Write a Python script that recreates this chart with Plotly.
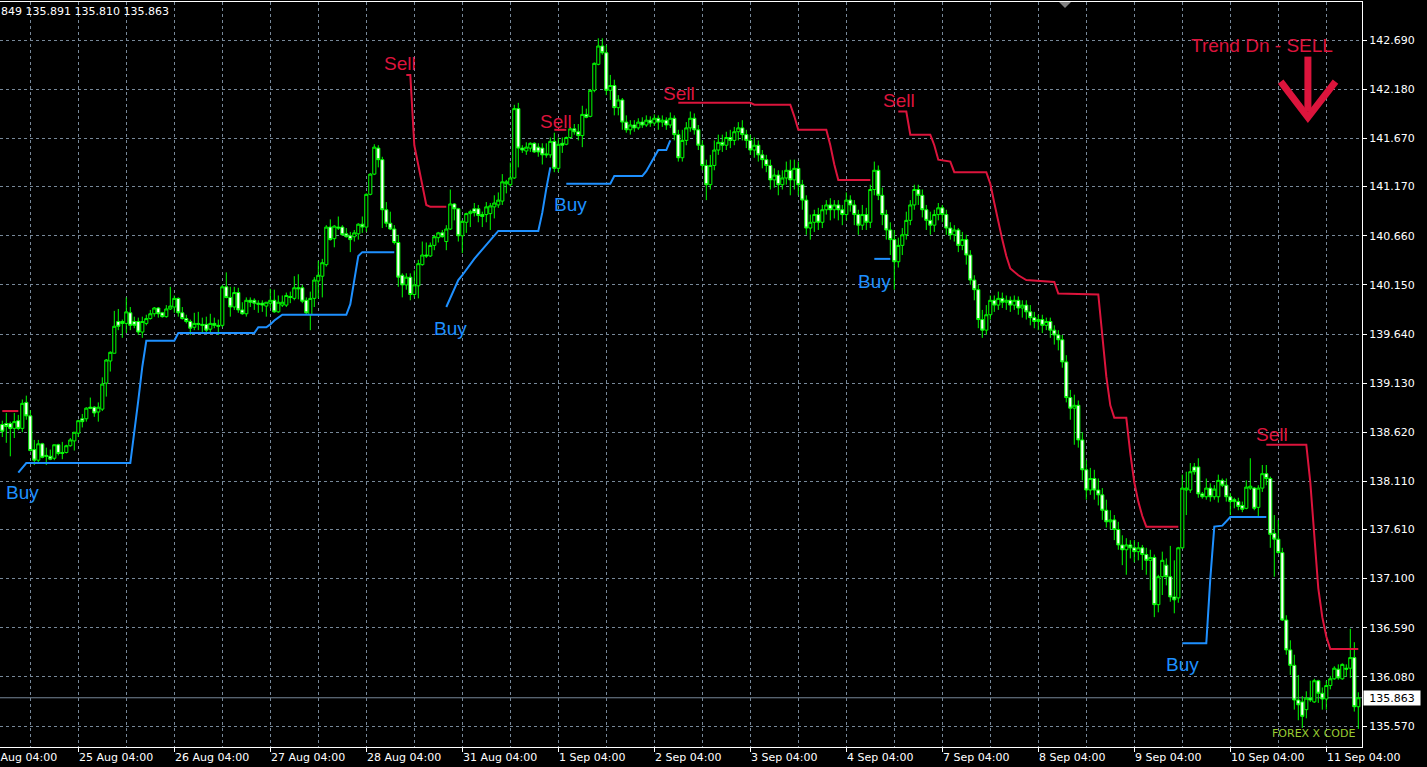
import plotly.graph_objects as go

# ---------------- data (H1 bars, index 0 = first visible bar) ----------------
opens = [
138.70,138.71,138.71,138.66,138.74,138.66,138.93,138.79,138.44,138.33,
138.50,138.38,138.37,138.35,138.49,138.41,138.41,138.48,138.53,138.61,
138.76,138.76,138.88,138.88,138.83,138.86,139.13,139.36,139.44,139.77,
139.77,139.75,139.86,139.77,139.77,139.66,139.75,139.80,139.85,139.91,
139.86,139.82,139.90,139.92,140.01,139.86,139.80,139.77,139.71,139.75,
139.74,139.74,139.69,139.75,139.73,139.73,140.13,140.02,139.92,140.07,
139.89,139.85,139.99,139.99,139.96,139.96,139.93,139.96,139.99,139.87,
139.94,139.94,140.03,140.01,140.12,140.12,139.99,139.84,140.01,140.19,
140.24,140.36,140.75,140.63,140.75,140.75,140.68,140.66,140.65,140.68,
140.78,140.75,141.09,141.30,141.57,141.45,140.93,140.79,140.73,140.59,
140.25,140.15,140.23,140.05,140.14,140.36,140.46,140.45,140.56,140.64,
140.69,140.60,140.73,140.99,140.94,140.66,140.80,140.89,140.94,140.94,
140.88,140.88,140.89,140.96,140.98,141.02,141.20,141.19,141.26,141.98,
141.57,141.54,141.57,141.62,141.58,141.57,141.51,141.50,141.64,141.36,
141.62,141.61,141.68,141.77,141.74,141.70,141.92,141.90,142.17,142.44,
142.63,142.56,142.17,142.22,141.99,142.07,141.84,141.76,141.81,141.78,
141.84,141.81,141.86,141.83,141.88,141.84,141.86,141.81,141.88,141.71,
141.47,141.65,141.78,141.88,141.76,141.60,141.39,141.19,141.39,141.55,
141.63,141.60,141.68,141.65,141.74,141.78,141.71,141.65,141.55,141.60,
141.50,141.45,141.39,141.24,141.29,141.19,141.26,141.34,141.24,141.36,
141.19,141.03,140.74,140.80,140.88,140.80,140.93,140.98,140.93,140.98,
140.93,140.88,141.03,140.98,140.88,140.77,140.88,140.80,141.14,141.34,
141.08,140.88,140.72,140.62,140.39,140.56,140.67,140.82,140.98,141.14,
141.08,140.93,140.82,140.77,140.88,140.95,140.88,140.74,140.67,140.72,
140.56,140.62,140.46,140.20,140.10,139.79,139.68,139.84,139.99,139.94,
140.01,139.97,139.99,139.94,139.99,139.91,139.94,139.87,139.81,139.77,
139.79,139.73,139.77,139.68,139.63,139.58,139.35,138.98,138.87,138.90,
138.54,138.23,138.02,138.14,138.02,137.97,137.81,137.69,137.71,137.61,
137.45,137.40,137.45,137.42,137.38,137.42,137.35,137.29,137.32,136.83,
137.12,137.24,137.12,136.91,136.90,137.42,138.02,138.02,138.26,138.26,
137.98,137.95,138.04,137.95,137.95,138.12,138.07,137.95,137.92,137.90,
137.86,137.83,138.04,138.04,137.84,138.04,138.19,138.14,137.57,137.51,
137.37,136.67,136.36,136.20,135.84,135.82,135.74,135.86,135.82,136.04,
135.91,135.85,135.99,136.06,136.16,136.06,136.17,136.17,136.28,135.77]

highs = [
138.74,138.82,138.73,138.82,138.80,138.96,139.00,138.85,138.54,138.54,
138.51,138.46,138.44,138.49,138.50,138.52,138.49,138.56,138.62,138.75,
138.81,138.88,138.98,138.89,138.93,139.19,139.38,139.46,139.88,139.90,
139.79,140.02,139.92,139.82,139.81,139.82,139.84,139.89,139.92,139.92,
139.87,139.94,140.13,140.04,140.02,139.92,139.84,139.79,139.86,139.87,
139.81,139.82,139.85,139.81,139.79,140.15,140.28,140.13,140.13,140.12,
139.97,140.02,140.02,140.01,139.99,139.99,139.97,140.11,140.10,140.04,
140.04,140.07,140.08,140.24,140.26,140.15,140.02,140.08,140.23,140.40,
140.42,140.77,140.83,140.77,140.86,140.77,140.74,140.70,140.72,140.79,
140.86,141.10,141.31,141.61,141.60,141.48,141.01,140.91,140.77,140.67,
140.27,140.27,140.27,140.30,140.41,140.60,140.59,140.59,140.67,140.70,
140.72,140.77,141.14,141.00,140.95,140.82,140.90,140.93,141.00,140.98,
140.91,141.01,141.00,141.08,141.11,141.30,141.24,141.42,142.02,142.04,
141.60,141.63,141.63,141.63,141.62,141.62,141.62,141.68,141.73,141.68,
141.68,141.69,141.79,141.82,141.82,142.01,141.98,142.18,142.46,142.71,
142.71,142.64,142.33,142.28,142.12,142.09,141.91,141.86,141.86,141.88,
141.89,141.91,141.90,141.92,141.91,141.91,141.89,141.94,141.91,141.76,
141.76,141.84,141.95,141.93,141.81,141.65,141.45,141.50,141.65,141.71,
141.71,141.74,141.76,141.79,141.84,141.86,141.76,141.71,141.68,141.65,
141.55,141.50,141.45,141.36,141.34,141.34,141.43,141.45,141.45,141.43,
141.24,141.08,140.88,140.93,140.95,140.98,141.03,141.05,141.03,141.03,
140.98,141.11,141.08,141.03,140.93,140.98,140.95,141.19,141.43,141.39,
141.16,140.93,140.80,140.72,140.64,140.74,140.91,141.03,141.19,141.19,
141.14,140.98,140.91,140.93,141.00,140.98,140.93,140.80,140.77,140.74,
140.70,140.67,140.51,140.25,140.15,139.89,139.94,140.04,140.04,140.08,
140.07,140.04,140.03,140.04,140.03,139.99,139.99,139.94,139.87,139.84,
139.84,139.81,139.81,139.73,139.68,139.63,139.42,139.06,139.01,138.95,
138.62,138.33,138.25,138.23,138.14,138.04,137.92,137.81,137.76,137.69,
137.55,137.52,137.50,137.50,137.48,137.45,137.42,137.40,137.35,137.14,
137.38,137.31,137.44,137.29,137.43,138.18,138.21,138.30,138.30,138.35,
138.00,138.14,138.09,138.07,138.18,138.14,138.14,137.99,137.94,137.94,
137.90,138.12,138.35,138.05,138.07,138.28,138.28,138.16,137.76,137.71,
137.42,136.72,136.46,136.31,136.10,135.88,135.93,136.04,136.06,136.05,
135.97,136.04,136.09,136.19,136.21,136.22,136.21,136.58,136.44,135.92]

lows = [
138.57,138.51,138.37,138.56,138.64,138.62,138.75,138.42,138.28,138.30,
138.35,138.28,138.33,138.33,138.38,138.34,138.40,138.47,138.43,138.57,
138.67,138.73,138.86,138.78,138.73,138.84,138.99,139.25,139.44,139.68,
139.60,139.65,139.68,139.70,139.63,139.60,139.73,139.79,139.82,139.81,
139.81,139.81,139.89,139.86,139.82,139.79,139.75,139.63,139.68,139.68,
139.65,139.66,139.66,139.70,139.63,139.71,140.01,139.82,139.89,139.86,
139.84,139.82,139.92,139.89,139.86,139.87,139.82,139.91,139.86,139.86,
139.92,139.92,139.96,139.99,140.00,139.96,139.84,139.68,139.92,140.01,
140.02,140.34,140.61,140.54,140.72,140.66,140.64,140.49,140.60,140.62,
140.69,140.70,141.08,141.29,141.37,140.74,140.75,140.72,140.57,140.13,
140.02,140.10,139.99,140.02,140.01,140.35,140.43,140.44,140.51,140.59,
140.64,140.51,140.72,140.82,140.60,140.48,140.69,140.75,140.86,140.80,
140.75,140.80,140.72,140.84,140.95,140.98,141.10,141.17,141.25,141.37,
141.52,141.50,141.53,141.52,141.48,141.40,141.47,141.47,141.32,141.32,
141.52,141.60,141.67,141.71,141.65,141.58,141.88,141.89,142.15,142.43,
142.54,142.12,142.07,141.91,141.91,141.76,141.73,141.71,141.74,141.76,
141.78,141.79,141.79,141.80,141.76,141.79,141.76,141.78,141.65,141.43,
141.43,141.60,141.74,141.71,141.55,141.34,141.03,141.14,141.34,141.50,
141.53,141.55,141.57,141.60,141.65,141.65,141.57,141.50,141.47,141.43,
141.36,141.32,141.14,141.16,141.08,141.14,141.19,141.08,141.14,141.08,
140.93,140.67,140.62,140.70,140.72,140.74,140.88,140.82,140.84,140.82,
140.77,140.82,140.91,140.77,140.67,140.72,140.72,140.74,141.08,141.03,
140.77,140.62,140.46,140.10,140.33,140.46,140.62,140.77,140.93,140.98,
140.85,140.72,140.67,140.70,140.82,140.80,140.67,140.62,140.60,140.49,
140.51,140.36,140.15,139.99,139.70,139.60,139.63,139.79,139.87,139.89,
139.91,139.89,139.87,139.89,139.84,139.81,139.79,139.73,139.70,139.68,
139.65,139.68,139.60,139.53,139.47,139.29,138.93,138.75,138.49,138.46,
138.12,137.92,137.97,137.92,137.86,137.71,137.63,137.61,137.50,137.40,
137.24,137.14,137.31,137.27,137.29,137.19,137.14,136.98,136.70,136.75,
136.93,137.03,136.86,136.74,136.85,137.41,137.76,137.99,138.18,137.94,
137.93,137.92,137.90,137.92,137.89,138.05,137.90,137.76,137.83,137.81,
137.79,137.82,138.02,137.81,137.74,138.00,138.07,137.42,137.12,137.36,
136.66,136.31,136.10,135.74,135.63,135.55,135.65,135.82,135.81,135.81,
135.74,135.74,135.95,136.05,136.05,136.05,136.08,136.07,135.72,135.54]

closes = [
138.63,138.68,138.66,138.73,138.66,138.92,138.79,138.43,138.33,138.50,
138.36,138.37,138.34,138.49,138.40,138.40,138.48,138.54,138.62,138.74,
138.73,138.87,138.87,138.82,138.88,139.12,139.37,139.45,139.72,139.72,
139.75,139.87,139.73,139.73,139.66,139.77,139.80,139.85,139.91,139.85,
139.82,139.90,139.93,140.01,139.86,139.80,139.77,139.70,139.75,139.74,
139.73,139.68,139.75,139.73,139.72,140.13,140.02,139.92,140.07,139.89,
139.85,139.99,139.97,139.96,139.95,139.94,139.97,139.99,139.87,139.97,
139.97,140.04,140.02,140.12,140.11,139.98,139.86,140.01,140.20,140.25,
140.38,140.75,140.62,140.76,140.74,140.67,140.65,140.62,140.69,140.78,
140.75,141.09,141.30,141.58,141.45,140.93,140.79,140.73,140.59,140.23,
140.15,140.23,140.05,140.15,140.37,140.46,140.45,140.56,140.65,140.69,
140.65,140.73,140.99,140.94,140.66,140.81,140.89,140.91,140.90,140.87,
140.86,140.96,140.97,141.00,141.03,141.22,141.22,141.26,141.98,141.57,
141.55,141.58,141.62,141.53,141.53,141.50,141.50,141.64,141.36,141.61,
141.60,141.68,141.77,141.74,141.70,141.92,141.89,142.17,142.45,142.63,
142.56,142.17,142.22,141.99,142.07,141.84,141.76,141.81,141.78,141.84,
141.81,141.86,141.83,141.88,141.84,141.86,141.81,141.88,141.71,141.47,
141.65,141.78,141.88,141.76,141.60,141.39,141.19,141.39,141.55,141.63,
141.60,141.68,141.65,141.74,141.78,141.71,141.65,141.55,141.60,141.50,
141.45,141.39,141.24,141.29,141.19,141.26,141.34,141.24,141.36,141.19,
141.03,140.74,140.80,140.88,140.80,140.93,140.98,140.93,140.98,140.93,
140.88,141.03,140.98,140.88,140.77,140.88,140.80,141.14,141.34,141.08,
140.88,140.72,140.62,140.39,140.56,140.67,140.82,140.98,141.14,141.08,
140.93,140.82,140.77,140.88,140.95,140.88,140.74,140.67,140.72,140.56,
140.62,140.46,140.20,140.10,139.79,139.68,139.84,139.99,139.94,140.01,
139.97,139.99,139.94,139.99,139.91,139.94,139.87,139.81,139.77,139.79,
139.73,139.77,139.68,139.63,139.58,139.35,138.98,138.87,138.90,138.54,
138.23,138.02,138.14,138.02,137.97,137.81,137.69,137.71,137.61,137.45,
137.40,137.45,137.42,137.38,137.42,137.35,137.29,137.32,136.83,137.12,
137.29,137.12,136.91,136.88,137.42,138.04,138.04,138.21,138.21,137.98,
137.95,138.04,137.95,138.03,138.12,138.07,137.95,137.90,137.90,137.85,
137.82,138.05,138.06,137.83,138.04,138.19,138.14,137.56,137.51,137.37,
136.67,136.36,136.20,135.84,135.79,135.67,135.86,135.84,136.04,135.91,
135.85,135.99,136.06,136.17,136.07,136.21,136.16,136.28,135.77,135.863]

# indicator: support (Buy) line, None = no value
buy_bars = [4,5,6,32,33,34,35,36,43,44,63,64,66,67,68,70,86,87,88,89,90,98, None,
            111,112,113,114,115,116,117,118,119,120,121,122,123,124,134,135,136,137, None,
            141,152,153,160,161,162,163,164,166,167, None,
            218,222, None,
            295,301,302,303,305,306,307,316]
buy_vals = [138.20,138.25,138.30,138.30,138.60,138.95,139.30,139.57,139.57,139.65,139.65,139.71,139.71,139.74,139.78,139.84,139.84,139.95,140.20,140.45,140.49,140.49, None,
            139.92,140.02,140.12,140.20,140.25,140.31,140.37,140.42,140.47,140.52,140.57,140.62,140.67,140.71,140.71,140.90,141.15,141.37, None,
            141.20,141.20,141.28,141.28,141.33,141.40,141.48,141.55,141.55,141.65, None,
            140.42,140.42, None,
            136.43,136.43,137.10,137.64,137.65,137.69,137.74,137.74]

# indicator: resistance (Sell) line
sell_bars = [0,4, None,
             101,102,103,104,105,106,107,111, None,
             138,141, None,
             169,187,188,197,198,199,206,207,208,209,217, None,
             224,226,227,232,233,234,237,238,246,247,248,249,250,251,252,254,256,263,264,274,275,276,277,278,281,282,283,284,285,286,294, None,
             316,326,327,328,329,330,331,332,339]
sell_vals = [138.84,138.84, None,
             142.33,142.33,141.60,141.40,141.19,140.98,140.96,140.96, None,
             141.76,141.76, None,
             142.04,142.04,142.02,142.02,141.90,141.76,141.76,141.60,141.40,141.24,141.24, None,
             141.95,141.95,141.71,141.71,141.60,141.45,141.43,141.32,141.32,141.20,141.00,140.80,140.62,140.45,140.32,140.25,140.20,140.18,140.06,140.05,139.60,139.20,138.90,138.77,138.77,138.40,138.10,137.90,137.75,137.64,137.64, None,
             138.49,138.49,138.10,137.50,137.00,136.70,136.50,136.37,136.37]

buy_label_bars = [0.7, 107.7, 137.7, 213.7, 290.7]
buy_label_prices = [137.99, 139.70, 140.98, 140.19, 136.21]
sell_label_bars = [95.2, 134.2, 164.9, 219.9, 313.2]
sell_label_prices = [142.45, 141.85, 142.14, 142.06, 138.60]

price_tick_labels = ["142.690", "142.180", "141.670", "141.170", "140.660", "140.150",
                     "139.640", "139.130", "138.620", "138.110", "137.610", "137.100",
                     "136.590", "136.080", "135.570"]
date_labels = ["24 Aug 04:00", "25 Aug 04:00", "26 Aug 04:00", "27 Aug 04:00", "28 Aug 04:00",
               "31 Aug 04:00", "1 Sep 04:00", "2 Sep 04:00", "3 Sep 04:00", "4 Sep 04:00",
               "7 Sep 04:00", "8 Sep 04:00", "9 Sep 04:00", "10 Sep 04:00", "11 Sep 04:00"]
first_label_bar = -5
bars_per_day = 24
last_price = 135.863
header_text = "849 135.891 135.810 135.863"
trend_text = "Trend Dn - SELL"
brand_text = "FOREX X CODE"

# ---------------- styling ----------------
W, H = 1427, 767
ML, MR, MT, MB = 0, 65, 2, 20
PW, PH = W - ML - MR, H - MT - MB
XMIN, XMAX = -0.575, 339.925
YMIN, YMAX = 135.352, 143.087
GREEN = "#00ff00"
BLUE = "#1e90ff"
RED = "#dc143c"
GRID = "#778899"
NUMFONT = "DejaVu Sans"
TXTFONT = "Liberation Sans"

def px_x(px):
    return px / PW

def px_y(py):
    return (MT + PH - py) / PH

bars = list(range(len(closes)))

fig = go.Figure()
fig.add_trace(go.Candlestick(
    x=bars, open=opens, high=highs, low=lows, close=closes,
    increasing=dict(line=dict(color=GREEN, width=1), fillcolor="black"),
    decreasing=dict(line=dict(color=GREEN, width=1), fillcolor="white"),
    whiskerwidth=0, hoverinfo="skip", showlegend=False))
fig.add_trace(go.Scatter(x=buy_bars, y=buy_vals, mode="lines", connectgaps=False,
                         line=dict(color=BLUE, width=2), hoverinfo="skip", showlegend=False))
fig.add_trace(go.Scatter(x=sell_bars, y=sell_vals, mode="lines", connectgaps=False,
                         line=dict(color=RED, width=2), hoverinfo="skip", showlegend=False))

ann = []
for b, p in zip(buy_label_bars, buy_label_prices):
    ann.append(dict(x=b, y=p, xref="x", yref="y", text="Buy", showarrow=False,
                    xanchor="left", yanchor="middle", borderpad=0,
                    font=dict(family=TXTFONT, size=19, color=BLUE)))
for b, p in zip(sell_label_bars, sell_label_prices):
    ann.append(dict(x=b, y=p, xref="x", yref="y", text="Sell", showarrow=False,
                    xanchor="left", yanchor="middle", borderpad=0,
                    font=dict(family=TXTFONT, size=19, color=RED)))
ann.append(dict(x=296.9, y=142.64, xref="x", yref="y", text=trend_text, showarrow=False,
                xanchor="left", yanchor="middle", borderpad=0,
                font=dict(family=TXTFONT, size=19, color=RED)))
for i, lab in enumerate(date_labels):
    b = first_label_bar + i * bars_per_day
    ann.append(dict(x=(b - XMIN) / (XMAX - XMIN), y=px_y(757), xref="paper", yref="paper",
                    text=lab, showarrow=False, xanchor="left", yanchor="middle", borderpad=0,
                    font=dict(family=NUMFONT, size=11, color="white")))
ann.append(dict(x=0, y=px_y(12), xref="paper", yref="paper", text=header_text, showarrow=False,
                xanchor="left", yanchor="middle", borderpad=0,
                font=dict(family=NUMFONT, size=11, color="white")))
ann.append(dict(x=px_x(1356), y=px_y(733), xref="paper", yref="paper", text=brand_text,
                showarrow=False, xanchor="right", yanchor="middle", borderpad=0,
                font=dict(family=NUMFONT, size=11, color="#9acd32")))
ann.append(dict(x=px_x(1363), y=last_price, xref="paper", yref="y", text=f"{last_price:.3f}",
                showarrow=False, xanchor="left", yanchor="middle", bgcolor="white",
                width=56, height=14, borderpad=0,
                font=dict(family=NUMFONT, size=11, color="black")))

shapes = [
    dict(type="line", xref="paper", yref="y", x0=0, x1=1, y0=last_price, y1=last_price,
         line=dict(color=GRID, width=1), layer="below"),
    # down arrow (Trend Dn)
    dict(type="line", xref="x", yref="y", x0=326.4, x1=326.4, y0=142.52, y1=141.95,
         line=dict(color=RED, width=7)),
    dict(type="path", xref="x", yref="y",
         path="M 319.6,142.26 L 326.4,141.89 L 333.3,142.26",
         line=dict(color=RED, width=7)),
    # chart shift marker
    dict(type="path", xref="paper", yref="paper",
         path=f"M {px_x(1059)},{px_y(2)} L {px_x(1071)},{px_y(2)} L {px_x(1065)},{px_y(8)} Z",
         fillcolor="#808080", line=dict(color="#808080", width=0)),
]

fig.update_layout(
    width=W, height=H, margin=dict(l=ML, r=MR, t=MT, b=MB, pad=0),
    paper_bgcolor="black", plot_bgcolor="black",
    showlegend=False, hovermode=False,
    boxgap=0.12, boxgroupgap=0.12,
    annotations=ann, shapes=shapes,
    xaxis=dict(range=[XMIN, XMAX], rangeslider=dict(visible=False),
               showline=True, linecolor="white", linewidth=1, mirror=True,
               tick0=first_label_bar + bars_per_day, dtick=bars_per_day, tickmode="linear",
               ticks="outside", ticklen=4, tickcolor="white", showticklabels=False,
               showgrid=True, gridcolor=GRID, griddash="3px,3px", gridwidth=1,
               minor=dict(tick0=7, dtick=12, showgrid=True, gridcolor=GRID,
                          griddash="3px,3px", gridwidth=1, ticks=""),
               zeroline=False, fixedrange=True),
    yaxis=dict(range=[YMIN, YMAX], side="right",
               tickmode="array", tickvals=[float(s) for s in price_tick_labels],
               ticktext=price_tick_labels,
               showline=True, linecolor="white", linewidth=1, mirror=False,
               ticks="outside", ticklen=4, tickcolor="white",
               tickfont=dict(family=NUMFONT, size=11, color="white"),
               showgrid=True, gridcolor=GRID, griddash="3px,3px", gridwidth=1,
               zeroline=False, fixedrange=True, automargin=False),
)

fig.write_html("out.html", config={"displayModeBar": False, "staticPlot": True},
               post_script="document.body.style.margin='0';document.body.style.overflow='hidden';")
